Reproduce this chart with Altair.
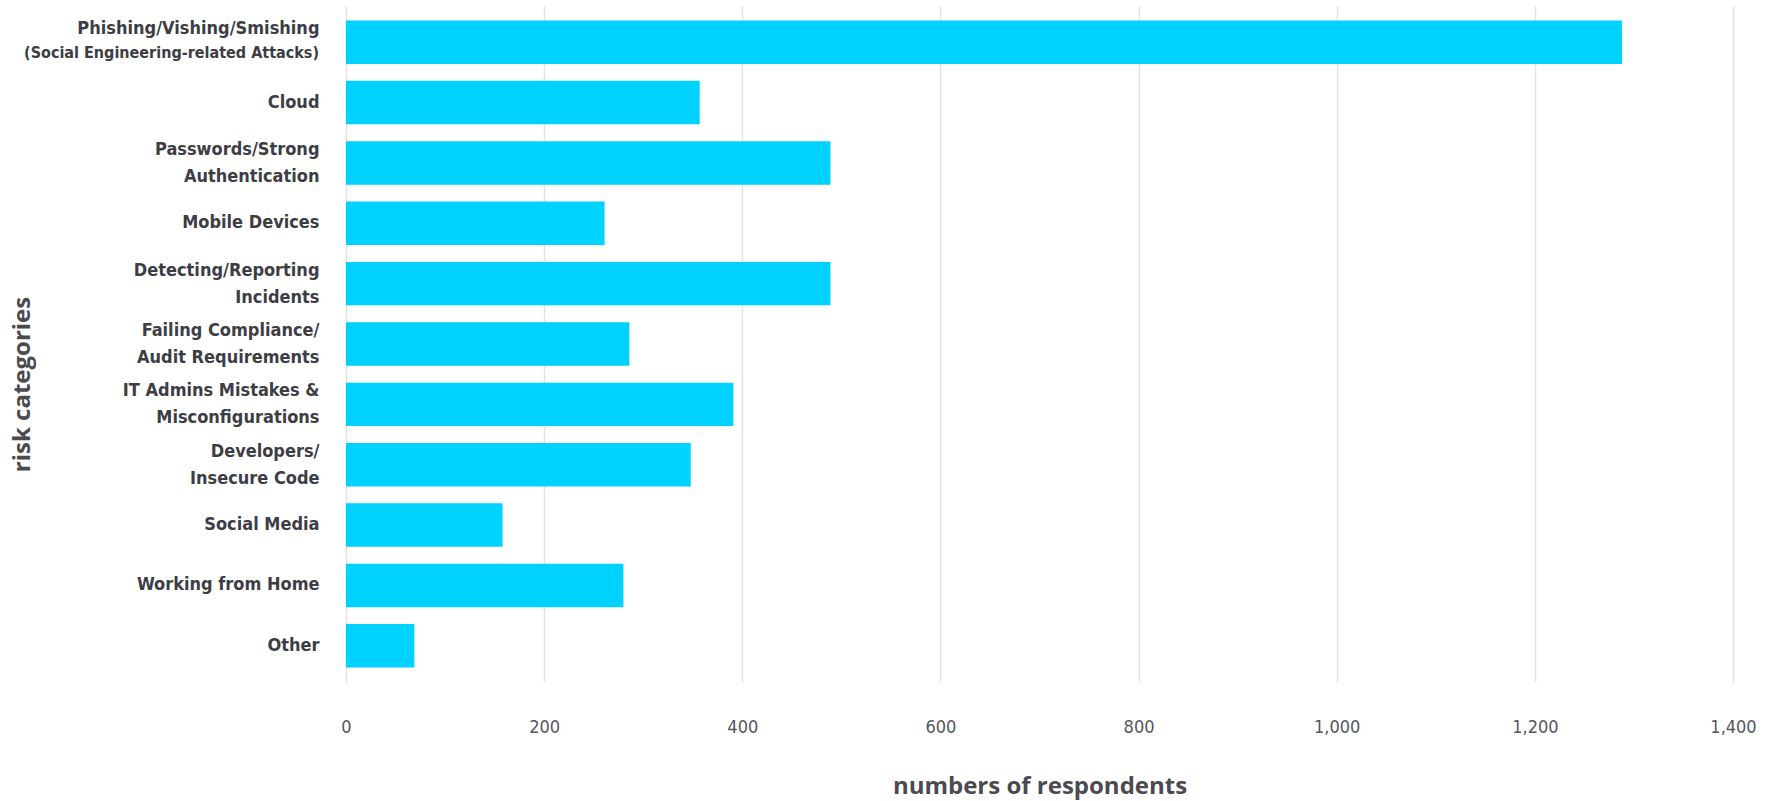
import altair as alt
import pandas as pd

categories = [
    "Phishing/Vishing/Smishing|\u00a0",
    "Cloud",
    "Passwords/Strong|Authentication",
    "Mobile Devices",
    "Detecting/Reporting|Incidents",
    "Failing Compliance/|Audit Requirements",
    "IT Admins Mistakes &|Misconfigurations",
    "Developers/|Insecure Code",
    "Social Media",
    "Working from Home",
    "Other",
]
respondents = [1288, 357, 489, 261, 489, 286, 391, 348, 158, 280, 69]

sub_categories = ["Phishing/Vishing/Smishing|\u00a0"]
sub_labels = ["(Social Engineering-related Attacks)"]

x_ticks = [0, 200, 400, 600, 800, 1000, 1200, 1400]

df = pd.DataFrame({"category": categories, "respondents": respondents})
df_sub = pd.DataFrame({"category": sub_categories, "sub": sub_labels})

LABEL_FONT = "DejaVu Sans Condensed, Liberation Sans Narrow, DejaVu Sans, sans-serif"
TITLE_FONT = "Open Sans, Lato, sans-serif"

y_enc = alt.Y(
    "category:N",
    sort=categories,
    scale=alt.Scale(paddingInner=0.28, paddingOuter=0.24),
    axis=alt.Axis(
        title="risk categories",
        labelExpr="split(datum.label, '|')",
        labelOffset={
            "condition": {"test": "indexof(datum.value, '|') >= 0", "value": -13},
            "value": 0,
        },
        labelFont=LABEL_FONT,
        labelFontSize=18,
        labelFontWeight="bold",
        labelColor="#3d3d45",
        labelLineHeight=27,
        labelPadding=27,
        labelLimit=400,
        ticks=False,
        domain=False,
        grid=False,
        titleFont=TITLE_FONT,
        titleFontSize=24,
        titleFontWeight="bold",
        titleColor="#4a4a50",
        titleX=-324,
        titleY=378,
        titleAngle=270,
        titleAlign="center",
        titleBaseline="middle",
    ),
)

bars = alt.Chart(df).mark_bar(color="#00D2FF").encode(
    y=y_enc,
    x=alt.X(
        "respondents:Q",
        scale=alt.Scale(domain=[0, 1400], nice=False),
        axis=alt.Axis(
            title="numbers of respondents",
            values=x_ticks,
            format=",.0f",
            grid=True,
            gridColor="#e3e3e3",
            gridWidth=1.5,
            domain=False,
            ticks=False,
            labelFont=LABEL_FONT,
            labelFontSize=18,
            labelColor="#555560",
            labelPadding=36,
            labelFlush=False,
            titleFont=TITLE_FONT,
            titleFontSize=24,
            titleFontWeight="bold",
            titleColor="#4a4a50",
            titleY=104,
            titleBaseline="middle",
        ),
    ),
)

subs = alt.Chart(df_sub).mark_text(
    align="right",
    baseline="middle",
    dy=11,
    font=LABEL_FONT,
    fontSize=16,
    fontWeight="bold",
    color="#3d3d45",
).encode(
    y=alt.Y("category:N", sort=categories),
    x=alt.value(-27),
    text="sub:N",
)

chart = (
    alt.layer(bars, subs, view=alt.ViewBackground(stroke=None, strokeWidth=0))
    .properties(
        width=1387,
        height=676,
        autosize=alt.AutoSizeParams(type="none"),
        padding={"left": 346, "top": 6, "right": 34, "bottom": 119},
    )
    .configure_view(stroke=None, strokeWidth=0)
    .configure_axis(domain=False)
    .configure(background="white")
)

chart.save("out.html", embed_options={"renderer": "svg", "actions": False})
